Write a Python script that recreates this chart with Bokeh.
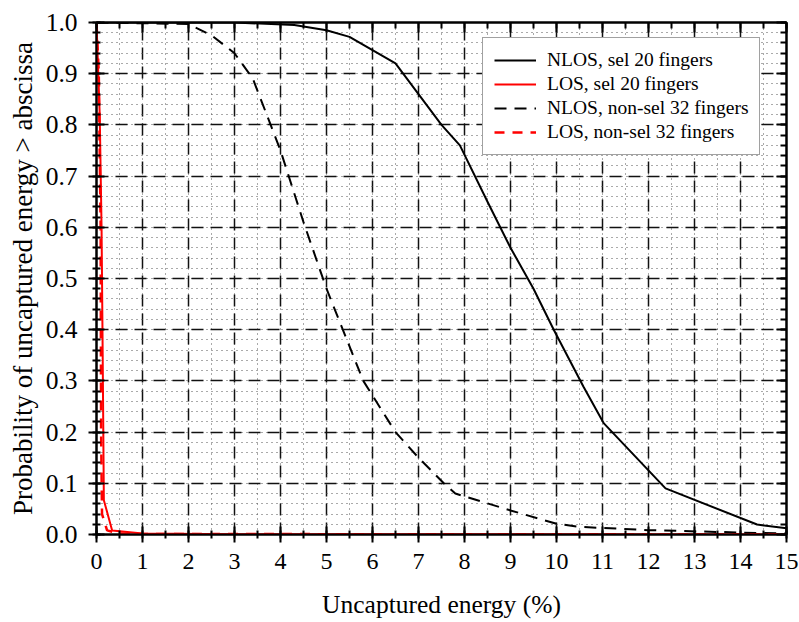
from bokeh.plotting import figure
from bokeh.models import (LinearAxis, SingleIntervalTicker, Range1d, Legend, LegendItem,
                          PrintfTickFormatter, Grid, CustomJSTickFormatter)
from bokeh.embed import file_html
from bokeh.resources import INLINE

# ---- data ----
nlos_sel_x = [0, 3.0, 4.3, 5.0, 5.5, 6.5, 7.5, 7.9, 8.5, 9.0, 9.5, 9.94, 10.59, 11.03, 12.37, 14.36, 15.0]
nlos_sel_y = [1.0, 1.0, 0.995, 0.985, 0.972, 0.92, 0.80, 0.76, 0.65, 0.56, 0.48, 0.40, 0.288, 0.217, 0.09, 0.0195, 0.012]

los_sel_x = [0, 0.07, 0.11, 0.13, 0.16, 0.34, 1.0, 3.0, 15.0]
los_sel_y = [1.0, 0.82, 0.60, 0.40, 0.067, 0.008, 0.002, 0.0005, 0.0]

nlos_non_x = [0, 2.0, 2.5, 3.0, 3.4, 4.0, 4.5, 5.0, 5.4, 5.8, 6.5, 7.0, 7.55, 7.8, 9.0, 10.0, 10.5, 12.0, 14.36, 15.0]
nlos_non_y = [1.0, 0.997, 0.975, 0.94, 0.89, 0.75, 0.61, 0.48, 0.39, 0.30, 0.20, 0.15, 0.10, 0.08, 0.047, 0.021, 0.015, 0.0085, 0.003, 0.002]

los_non_x = [0, 0.05, 0.09, 0.10, 0.12, 0.23, 0.5, 1.0, 15.0]
los_non_y = [1.0, 0.90, 0.60, 0.20, 0.04, 0.008, 0.002, 0.001, 0.0]

labels = ["NLOS, sel 20 fingers", "LOS, sel 20 fingers",
          "NLOS, non-sel 32 fingers", "LOS, non-sel 32 fingers"]
x_label = "Uncaptured energy (%)"
y_label = "Probability of uncaptured energy > abscissa"

FONT = "Liberation Serif"

p = figure(width=799, height=622, output_backend="svg", toolbar_location=None,
           x_range=Range1d(0, 15), y_range=Range1d(0, 1.0),
           x_axis_type=None, y_axis_type=None)
p.min_border_left = 96
p.min_border_right = 13
p.min_border_top = 22
p.min_border_bottom = 88
p.outline_line_color = "black"
p.outline_line_width = 2
p.background_fill_color = "white"
p.border_fill_color = "white"

xt = SingleIntervalTicker(interval=1, num_minor_ticks=2)
yt = SingleIntervalTicker(interval=0.1, num_minor_ticks=5)

# grids (drawn first, under the curves)
for dim, tk in ((0, xt), (1, yt)):
    g = Grid(dimension=dim, ticker=tk)
    g.grid_line_color = "#111111"
    g.grid_line_width = 1.5
    g.grid_line_dash = "12 7"
    g.minor_grid_line_color = "#555555"
    g.minor_grid_line_width = 1
    g.minor_grid_line_dash = "1 4"
    p.add_layout(g)

def style_axis(ax, tick_size="24px", label_size="25.5px"):
    ax.axis_line_color = "black"
    ax.axis_line_width = 2
    ax.major_tick_line_color = "black"
    ax.major_tick_line_width = 2
    ax.minor_tick_line_color = "black"
    ax.minor_tick_line_width = 2
    ax.major_label_text_font = FONT
    ax.major_label_text_font_size = tick_size
    ax.major_label_text_color = "black"
    ax.axis_label_text_font = FONT
    ax.axis_label_text_font_size = label_size
    ax.axis_label_text_font_style = "normal"
    ax.axis_label_text_color = "black"

xb = LinearAxis(ticker=xt, axis_label=x_label)
style_axis(xb)
xb.major_tick_in = 8
xb.major_tick_out = 8
xb.minor_tick_in = 4
xb.minor_tick_out = 4
xb.major_label_standoff = 11
xb.axis_label_standoff = 18
p.add_layout(xb, "below")

yl = LinearAxis(ticker=yt, axis_label=y_label, formatter=PrintfTickFormatter(format="%.1f"))
style_axis(yl, tick_size="25.5px", label_size="27px")
yl.major_tick_in = 8
yl.major_tick_out = 8
yl.minor_tick_in = 4
yl.minor_tick_out = 4
yl.major_label_standoff = 11
yl.axis_label_standoff = 5
p.add_layout(yl, "left")

blank = CustomJSTickFormatter(code="return ''")

xa = LinearAxis(ticker=xt, formatter=blank)
style_axis(xa)
xa.major_tick_in = 10
xa.major_tick_out = 0
xa.minor_tick_in = 6
xa.minor_tick_out = 0
xa.major_label_standoff = 0
p.add_layout(xa, "above")

yr = LinearAxis(ticker=yt, formatter=blank)
style_axis(yr)
yr.major_tick_in = 10
yr.major_tick_out = 0
yr.minor_tick_in = 6
yr.minor_tick_out = 0
yr.major_label_standoff = 0
p.add_layout(yr, "right")

r1 = p.line(nlos_sel_x, nlos_sel_y, line_color="black", line_width=2)
r3 = p.line(nlos_non_x, nlos_non_y, line_color="black", line_width=2, line_dash="12 8")
r2 = p.line(los_sel_x, los_sel_y, line_color="#ff0000", line_width=2)
r4 = p.line(los_non_x, los_non_y, line_color="#ff0000", line_width=2.5, line_dash="10 8")

legend = Legend(items=[LegendItem(label=labels[0], renderers=[r1]),
                       LegendItem(label=labels[1], renderers=[r2]),
                       LegendItem(label=labels[2], renderers=[r3]),
                       LegendItem(label=labels[3], renderers=[r4])],
                location=(386, 379))
legend.label_text_font = FONT
legend.label_text_font_size = "19.5px"
legend.label_text_color = "black"
legend.glyph_width = 42
legend.glyph_height = 20
legend.label_height = 20
legend.label_standoff = 11
legend.spacing = 2
legend.padding = 11
legend.margin = 0
legend.border_line_color = "#444444"
legend.border_line_width = 1.5
legend.background_fill_color = "white"
legend.background_fill_alpha = 1
p.add_layout(legend, "center")

open("out.html", "w").write(file_html(p, INLINE))
